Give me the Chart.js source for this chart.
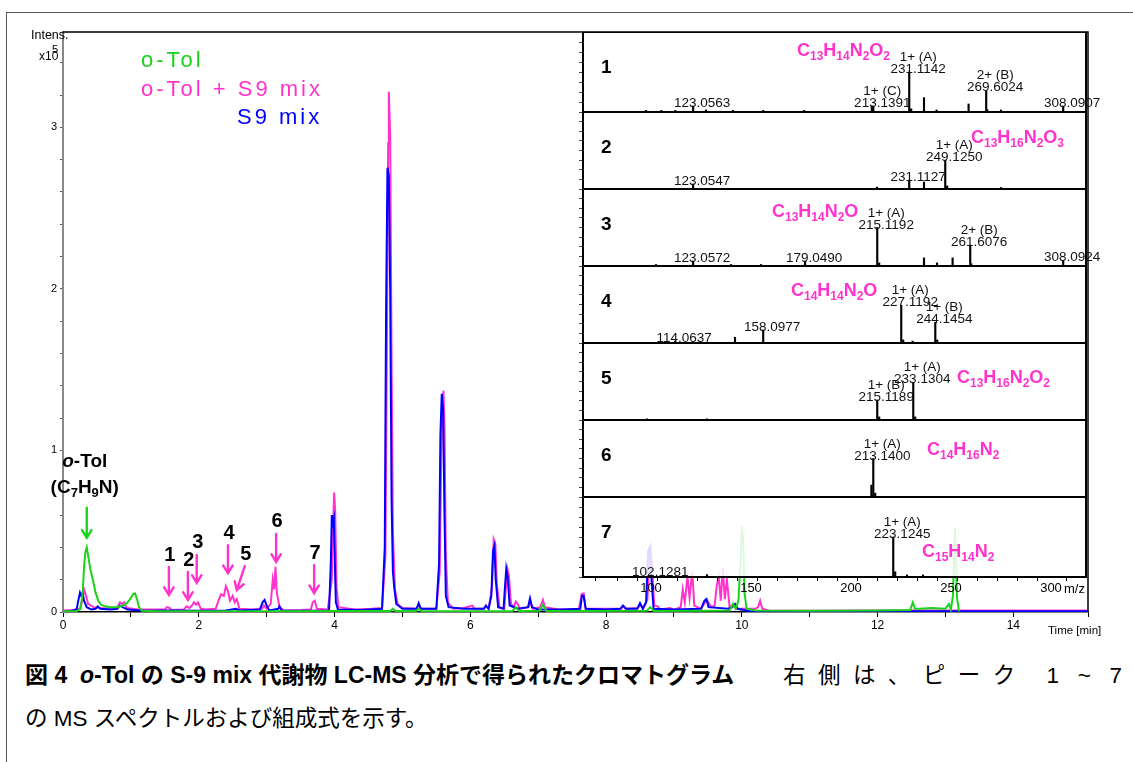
<!DOCTYPE html>
<html>
<head>
<meta charset="utf-8">
<script src="https://cdn.jsdelivr.net/npm/chart.js@4.4.1/dist/chart.umd.min.js"></script>
<style>
  html, body { margin: 0; padding: 0; background: #fff; }
  #page { position: relative; width: 1133px; height: 762px; overflow: hidden; background: #fff;
          font-family: "Liberation Sans", Arial, sans-serif; }
  #frame { position: absolute; left: 6px; top: 12px; width: 1200px; height: 800px;
           border-top: 1.5px solid #555; border-left: 1.5px solid #555; }
  #main { position: absolute; left: 0; top: 0; }
  .panel { position: absolute; }
  #caption { position: absolute; left: 25px; top: 654px; width: 1097px; font-size: 22.5px; line-height: 43px; color: #000;
             font-family: "Liberation Sans", "Noto Sans CJK JP", sans-serif; }
  #caption .first { display: flex; justify-content: space-between; white-space: nowrap; }
  #caption .head { font-weight: bold; font-size: 23px; }
  #caption .tail { display: inline-block; width: 339px; text-align: justify; text-align-last: justify; }
  #caption .second { white-space: nowrap; }
</style>
</head>
<body>
<div id="page">
  <div id="frame"></div>
  <canvas id="main" width="1133" height="645"></canvas>
  <div id="caption">
    <div class="first"><span class="head">図 4&nbsp; <i>o</i>-Tol の S-9 mix 代謝物 LC-MS 分析で得られたクロマトグラム</span><span class="tail">右側は、ピーク 1 ~ 7</span></div>
    <div class="second">の MS スペクトルおよび組成式を示す。</div>
  </div>
</div>
<script>
// ---------- chromatogram (time [min], intensity ×10^5) ----------
const timeMax = 15.1;
const intensMax = 3.59;

const otolTrace = [
  [0,0.004],[0.2,0.006],[0.26,0.02],[0.29,0.12],[0.31,0.28],[0.33,0.37],[0.35,0.4],[0.37,0.35],
  [0.4,0.27],[0.44,0.2],[0.48,0.12],[0.52,0.07],[0.56,0.045],[0.62,0.035],[0.7,0.03],[0.8,0.03],
  [0.88,0.04],[0.94,0.055],[0.99,0.08],[1.03,0.11],[1.06,0.115],[1.09,0.08],[1.12,0.03],[1.16,0.008],
  [1.4,0.005],[2,0.005],[3,0.005],[4,0.006],[4.82,0.006],[4.86,0.02],[4.9,0.006],[5.2,0.006],
  [5.24,0.02],[5.28,0.006],[6,0.005],[6.62,0.006],[6.67,0.03],[6.72,0.006],[7.02,0.008],[7.07,0.045],
  [7.12,0.006],[7.6,0.006],[8.6,0.008],[8.65,0.03],[8.7,0.006],[9.5,0.008],[9.82,0.01],[9.87,0.05],
  [9.91,0.02],[9.95,0.07],[9.98,0.3],[10.0,0.53],[10.02,0.45],[10.04,0.12],[10.07,0.02],[10.2,0.01],
  [11,0.008],[12,0.01],[12.48,0.012],[12.52,0.06],[12.55,0.02],[12.62,0.02],[12.8,0.025],[13.0,0.02],
  [13.05,0.05],[13.08,0.015],[13.11,0.1],[13.14,0.52],[13.17,0.09],[13.2,0.004]
];

const mixTrace = [
  [0,0.01],[0.15,0.012],[0.25,0.02],[0.28,0.07],[0.31,0.14],[0.34,0.1],[0.37,0.05],[0.45,0.03],
  [0.55,0.025],[0.7,0.02],[0.8,0.03],[0.84,0.06],[0.87,0.05],[0.9,0.06],[0.94,0.025],[1.1,0.015],
  [1.3,0.015],[1.5,0.015],[1.53,0.03],[1.57,0.025],[1.6,0.012],[1.78,0.015],[1.82,0.035],[1.86,0.025],
  [1.9,0.04],[1.93,0.06],[1.96,0.045],[1.99,0.06],[2.03,0.02],[2.1,0.015],[2.25,0.02],[2.29,0.07],
  [2.33,0.11],[2.37,0.1],[2.4,0.16],[2.43,0.13],[2.46,0.07],[2.5,0.1],[2.53,0.06],[2.56,0.08],
  [2.6,0.02],[2.8,0.015],[2.93,0.02],[2.96,0.04],[3.0,0.02],[3.06,0.05],[3.09,0.2],[3.11,0.14],
  [3.13,0.28],[3.15,0.12],[3.19,0.03],[3.25,0.01],[3.5,0.012],[3.65,0.015],[3.68,0.06],[3.71,0.07],
  [3.74,0.02],[3.9,0.015],[3.96,0.2],[3.98,0.55],[3.995,0.74],[4.01,0.62],[4.03,0.15],[4.06,0.03],
  [4.3,0.015],[4.55,0.02],[4.7,0.025],[4.75,0.35],[4.77,1.6],[4.79,2.9],[4.8,3.22],[4.82,2.95],
  [4.84,1.6],[4.86,0.5],[4.89,0.14],[4.93,0.05],[5.0,0.025],[5.2,0.02],[5.24,0.045],[5.28,0.02],
  [5.5,0.02],[5.55,0.25],[5.57,0.9],[5.59,1.3],[5.605,1.37],[5.62,1.15],[5.64,0.35],[5.67,0.06],
  [5.75,0.02],[5.9,0.025],[6.03,0.04],[6.06,0.02],[6.2,0.02],[6.23,0.035],[6.27,0.02],[6.32,0.15],
  [6.345,0.45],[6.37,0.42],[6.39,0.18],[6.43,0.03],[6.5,0.02],[6.53,0.18],[6.55,0.26],[6.57,0.22],
  [6.6,0.05],[6.64,0.03],[6.67,0.065],[6.7,0.05],[6.73,0.02],[6.86,0.03],[6.89,0.06],[6.92,0.02],
  [7.03,0.03],[7.07,0.075],[7.1,0.03],[7.3,0.015],[7.6,0.02],[7.64,0.11],[7.67,0.115],[7.7,0.02],
  [8.0,0.02],[8.22,0.02],[8.26,0.035],[8.3,0.02],[8.47,0.025],[8.51,0.045],[8.55,0.02],[8.61,0.08],
  [8.64,0.35],[8.66,0.4],[8.68,0.27],[8.71,0.04],[8.76,0.035],[8.8,0.015],[8.94,0.025],[9.0,0.015],
  [9.1,0.03],[9.13,0.14],[9.16,0.06],[9.2,0.22],[9.23,0.09],[9.27,0.25],[9.3,0.04],[9.4,0.02],
  [9.46,0.06],[9.49,0.07],[9.55,0.03],[9.6,0.04],[9.63,0.16],[9.66,0.22],[9.69,0.07],[9.72,0.27],
  [9.75,0.08],[9.78,0.2],[9.82,0.03],[9.88,0.045],[9.92,0.02],[10.2,0.02],[10.24,0.03],[10.27,0.07],
  [10.3,0.02],[10.4,0.01],[11,0.008],[12,0.01],[13,0.01],[14,0.01],[15.1,0.01]
];

const s9Trace = [
  [0,0.0],[0.1,0.005],[0.2,0.015],[0.23,0.08],[0.25,0.12],[0.27,0.1],[0.29,0.12],[0.31,0.07],
  [0.35,0.03],[0.42,0.015],[0.48,0.02],[0.51,0.035],[0.55,0.02],[0.7,0.015],[0.8,0.02],[0.84,0.04],
  [0.88,0.03],[0.95,0.015],[1.2,0.008],[1.6,0.01],[2.0,0.008],[2.4,0.01],[2.55,0.02],[2.6,0.01],
  [2.9,0.015],[2.94,0.06],[2.97,0.075],[3.0,0.04],[3.04,0.01],[3.17,0.02],[3.19,0.035],[3.22,0.01],
  [3.6,0.008],[3.92,0.01],[3.945,0.3],[3.96,0.6],[3.975,0.55],[3.99,0.58],[4.005,0.3],[4.02,0.06],
  [4.05,0.015],[4.4,0.012],[4.7,0.02],[4.74,0.4],[4.76,1.9],[4.78,2.75],[4.8,2.7],[4.82,2.0],
  [4.84,0.7],[4.86,0.25],[4.88,0.15],[4.91,0.05],[5.0,0.02],[5.21,0.02],[5.24,0.055],[5.27,0.02],
  [5.5,0.02],[5.54,0.3],[5.56,1.1],[5.58,1.35],[5.6,1.25],[5.62,0.6],[5.64,0.1],[5.68,0.03],
  [5.9,0.02],[6.2,0.02],[6.23,0.04],[6.27,0.02],[6.31,0.1],[6.335,0.38],[6.355,0.41],[6.375,0.2],
  [6.41,0.03],[6.49,0.02],[6.51,0.15],[6.53,0.27],[6.55,0.22],[6.58,0.04],[6.7,0.02],[6.85,0.03],
  [6.88,0.085],[6.91,0.03],[7.0,0.015],[7.4,0.015],[7.62,0.02],[7.645,0.1],[7.67,0.1],[7.7,0.02],
  [8.0,0.015],[8.21,0.02],[8.25,0.04],[8.29,0.02],[8.46,0.02],[8.5,0.055],[8.54,0.02],[8.59,0.06],
  [8.62,0.38],[8.645,0.4],[8.67,0.2],[8.7,0.02],[9.0,0.015],[9.4,0.02],[9.45,0.07],[9.48,0.08],
  [9.51,0.03],[9.8,0.02],[9.86,0.03],[9.9,0.05],[9.94,0.02],[10.1,0.006],[11,0.004],[12,0.005],
  [13,0.005],[14,0.005],[15.1,0.005]
];

// arrow marks for metabolite peaks: label, time and intensity at the arrow tip
const peakMarks = [
  ['1', 1.56, 0.105], ['2', 1.84, 0.074], ['3', 1.97, 0.18], ['4', 2.43, 0.24],
  ['5', 2.56, 0.136], ['6', 3.14, 0.31], ['7', 3.70, 0.117]
];
const parentMark = [0.35, 0.46];

// ---------- MS spectra for peaks 1–7 (m/z, relative intensity) ----------
const mzMin = 68, mzMax = 319.5;

const ms1Mz  = [99.5, 107.2, 114.1, 123.0563, 129.5, 143.0, 158.1, 178.6, 212.4, 213.1391, 231.1142, 232.1, 238.5, 244.8, 260.8, 269.6024, 270.1, 277.0, 308.0907];
const ms1Rel = [4, 4, 4, 15, 5, 4, 4, 4, 15, 15, 100, 8, 36, 5, 20, 54, 6, 5, 15];
const ms1Tags = [[123.0563, ''], [213.1391, '1+ (C)'], [231.1142, '1+ (A)'], [269.6024, '2+ (B)'], [308.0907, '']];

const ms2Mz  = [123.0547, 215.0, 231.1127, 238.5, 249.1250, 250.1, 277.0];
const ms2Rel = [13, 5, 23, 18, 75, 8, 4];
const ms2Tags = [[123.0547, ''], [231.1127, ''], [249.1250, '1+ (A)']];

const ms3Mz  = [104.5, 123.0572, 142.0, 157.0, 179.0490, 215.1192, 216.1, 238.5, 245.0, 252.8, 261.6076, 262.1, 308.0924];
const ms3Rel = [4, 13, 4, 4, 13, 100, 8, 21, 8, 21, 54, 6, 15];
const ms3Tags = [[123.0572, ''], [179.0490, ''], [215.1192, '1+ (A)'], [261.6076, '2+ (B)'], [308.0924, '']];

const ms4Mz  = [114.0637, 144.0, 158.0977, 227.1192, 228.1, 232.8, 244.1454, 245.1];
const ms4Rel = [5, 15, 34, 98, 8, 5, 54, 8];
const ms4Tags = [[114.0637, ''], [158.0977, ''], [227.1192, '1+ (A)'], [244.1454, '1+ (B)']];

const ms5Mz  = [100.0, 130.0, 215.1189, 216.1, 233.1304, 234.1];
const ms5Rel = [3, 3, 52, 8, 98, 8];
const ms5Tags = [[215.1189, '1+ (B)'], [233.1304, '1+ (A)']];

const ms6Mz  = [212.2, 213.1400, 214.1];
const ms6Rel = [31, 100, 10];
const ms6Tags = [[213.1400, '1+ (A)']];

const ms7Mz  = [102.1281, 130.0, 223.1245, 224.1, 230.0, 238.0];
const ms7Rel = [5, 6, 100, 13, 5, 5];
const ms7Tags = [[102.1281, ''], [223.1245, '1+ (A)']];

const formulas = ['C13H14N2O2', 'C13H16N2O3', 'C13H14N2O', 'C14H14N2O', 'C13H16N2O2', 'C14H16N2', 'C15H14N2'];

// ---------- styling ----------
const GREEN = '#1ad41a', PINK = '#ff33cc', BLUE = '#0000ff';
const FONT = '"Liberation Sans", Arial, sans-serif';
Chart.defaults.font.family = FONT;

function toPoints(trace) { return trace.map(p => ({ x: p[0], y: p[1] })); }

function arrow(ctx, x1, y1, x2, y2, color) {
  const ang = Math.atan2(y2 - y1, x2 - x1), L = 9, spread = 0.55;
  ctx.strokeStyle = color; ctx.lineWidth = 2.4; ctx.lineCap = 'round';
  ctx.beginPath(); ctx.moveTo(x1, y1); ctx.lineTo(x2, y2);
  ctx.moveTo(x2 - L * Math.cos(ang - spread), y2 - L * Math.sin(ang - spread));
  ctx.lineTo(x2, y2);
  ctx.lineTo(x2 - L * Math.cos(ang + spread), y2 - L * Math.sin(ang + spread));
  ctx.stroke();
}

// text with subscripted digits, e.g. C13H14N2O2
function drawFormula(ctx, text, x, y, size, color) {
  ctx.fillStyle = color; ctx.textAlign = 'left'; ctx.textBaseline = 'alphabetic';
  const parts = text.match(/[A-Z][a-z]?|\d+|[()]/g);
  let cx = x;
  for (const p of parts) {
    if (/^\d+$/.test(p)) {
      ctx.font = 'bold ' + Math.round(size * 0.66) + 'px ' + FONT;
      ctx.fillText(p, cx, y + size * 0.22);
    } else {
      ctx.font = 'bold ' + size + 'px ' + FONT;
      ctx.fillText(p, cx, y);
    }
    cx += ctx.measureText(p).width;
  }
  return cx;
}

function formulaWidth(ctx, text, size) {
  const parts = text.match(/[A-Z][a-z]?|\d+|[()]/g);
  let w = 0;
  for (const p of parts) {
    ctx.font = 'bold ' + (/^\d+$/.test(p) ? Math.round(size * 0.66) : size) + 'px ' + FONT;
    w += ctx.measureText(p).width;
  }
  return w;
}

const chromDecor = {
  id: 'chromDecor',
  afterDraw(chart) {
    const ctx = chart.ctx, a = chart.chartArea, xs = chart.scales.x, ys = chart.scales.y;
    ctx.save();
    // plot frame (top and right)
    ctx.strokeStyle = '#000'; ctx.lineWidth = 1.5;
    ctx.beginPath(); ctx.moveTo(a.left, a.top); ctx.lineTo(a.right, a.top); ctx.lineTo(a.right, a.bottom); ctx.stroke();

    // intensity unit
    ctx.fillStyle = '#000'; ctx.textAlign = 'left'; ctx.textBaseline = 'alphabetic';
    ctx.font = '12.5px ' + FONT;
    ctx.fillText('Intens.', 31, 39);
    ctx.font = '12px ' + FONT;
    ctx.fillText('x10', 39, 60);
    ctx.font = '11px ' + FONT;
    ctx.fillText('5', 52, 53);
    // time axis title
    ctx.font = '11.5px ' + FONT;
    ctx.fillText('Time [min]', 1048, 634);

    // series names
    ctx.font = '22px ' + FONT;
    ctx.letterSpacing = '3px';
    ctx.fillStyle = GREEN; ctx.fillText('o-Tol', 141, 67);
    ctx.fillStyle = PINK;  ctx.fillText('o-Tol + S9 mix', 141, 96);
    ctx.fillStyle = BLUE;  ctx.fillText('S9 mix', 237, 124);
    ctx.letterSpacing = '0px';

    // parent compound label and arrow
    const px = xs.getPixelForValue(parentMark[0]), py = ys.getPixelForValue(parentMark[1]);
    arrow(ctx, px, py - 30, px, py, GREEN);
    ctx.fillStyle = '#000';
    ctx.font = 'italic bold 19px ' + FONT;
    const w1 = ctx.measureText('o').width;
    ctx.font = 'bold 19px ' + FONT;
    const w2 = ctx.measureText('-Tol').width;
    const sx = px - 2 - (w1 + w2) / 2;
    ctx.font = 'italic bold 19px ' + FONT; ctx.fillText('o', sx, 467);
    ctx.font = 'bold 19px ' + FONT; ctx.fillText('-Tol', sx + w1, 467);
    const fw = formulaWidth(ctx, '(C7H9N)', 19);
    drawFormula(ctx, '(C7H9N)', px - 2 - fw / 2, 493, 19, '#000');

    // metabolite peak arrows
    ctx.font = 'bold 20px ' + FONT; ctx.textAlign = 'center'; ctx.textBaseline = 'middle';
    for (const [lab, t, v] of peakMarks) {
      const tx = xs.getPixelForValue(t), ty = ys.getPixelForValue(v);
      const slant = lab === '5' ? 8 : 0;
      const len = lab === '5' ? 24 : 28;
      arrow(ctx, tx + slant, ty - len, tx, ty, PINK);
      ctx.fillStyle = '#000';
      ctx.fillText(lab, tx + slant + 1, ty - len - 12);
    }
    ctx.restore();
  }
};

new Chart(document.getElementById('main'), {
  type: 'line',
  data: {
    datasets: [
      { label: 'o-Tol', data: toPoints(otolTrace), borderColor: GREEN, borderWidth: 2 },
      { label: 'S9 mix', data: toPoints(s9Trace), borderColor: BLUE, borderWidth: 2 },
      { label: 'o-Tol + S9 mix', data: toPoints(mixTrace), borderColor: PINK, borderWidth: 2 }
    ]
  },
  options: {
    responsive: false, animation: false, devicePixelRatio: 1,
    layout: { padding: { left: 0, top: 32, right: 45, bottom: 0 } },
    elements: { point: { radius: 0 }, line: { tension: 0 } },
    plugins: { legend: { display: false }, tooltip: { enabled: false } },
    scales: {
      x: {
        type: 'linear', min: 0, max: timeMax,
        ticks: { stepSize: 1, autoSkip: false, maxRotation: 0, color: '#000', font: { size: 12 }, padding: 1,
                 callback: v => (Math.abs(v - Math.round(v)) < 1e-6 && Math.round(v) % 2 === 0) ? String(Math.round(v)) : '' },
        grid: { drawOnChartArea: false, tickLength: 5, color: '#000' },
        border: { color: '#000', width: 1.5 },
        afterFit: s => { s.height = 33; }
      },
      y: {
        min: 0, max: intensMax,
        ticks: { stepSize: 0.2, autoSkip: false, color: '#000', font: { size: 11 }, padding: 3,
                 callback: v => Math.abs(v - Math.round(v)) < 1e-6 ? String(Math.round(v)) : '' },
        grid: { drawOnChartArea: false, tickLength: 3, color: '#555' },
        border: { color: '#888', width: 2 },
        afterFit: s => { s.width = 63; }
      }
    }
  },
  plugins: [chromDecor]
});

// ---------- inset spectra ----------
const page = document.getElementById('page');
const panelTops = [32, 112, 189, 266, 343, 420, 497, 577];
const formulaPos = [[797, 24], [971, 31], [772, 28], [791, 30], [957, 40], [927, 35], [922, 60]];
const spectra = [
  [ms1Mz, ms1Rel, ms1Tags], [ms2Mz, ms2Rel, ms2Tags], [ms3Mz, ms3Rel, ms3Tags],
  [ms4Mz, ms4Rel, ms4Tags], [ms5Mz, ms5Rel, ms5Tags], [ms6Mz, ms6Rel, ms6Tags], [ms7Mz, ms7Rel, ms7Tags]
];
const panelLeft = 579, insetRight = 1086, panelCanvasW = 554;

spectra.forEach(([mz, rel, tags], i) => {
  const last = i === spectra.length - 1;
  const top = panelTops[i], bottom = panelTops[i + 1];
  const c = document.createElement('canvas');
  c.className = 'panel';
  c.width = panelCanvasW; c.height = bottom - top + (last ? 22 : 0);
  c.style.left = panelLeft + 'px'; c.style.top = top + 'px';
  page.appendChild(c);

  const decor = {
    id: 'specDecor' + i,
    beforeDraw(chart) {
      const a = chart.chartArea, ctx = chart.ctx;
      ctx.save(); ctx.fillStyle = 'rgba(255,255,255,0.86)';
      ctx.fillRect(a.left, a.top, a.right - a.left, a.bottom - a.top); ctx.restore();
    },
    afterDraw(chart) {
      const a = chart.chartArea, ctx = chart.ctx, xs = chart.scales.x, ys = chart.scales.y;
      ctx.save();
      ctx.strokeStyle = '#000'; ctx.lineWidth = 2;
      ctx.strokeRect(a.left, a.top, a.right - a.left, a.bottom - a.top);
      // panel number
      ctx.fillStyle = '#000'; ctx.font = 'bold 19px ' + FONT; ctx.textAlign = 'left'; ctx.textBaseline = 'alphabetic';
      ctx.fillText(String(i + 1), 601 - panelLeft, a.top + 41);
      // composition
      drawFormula(ctx, formulas[i], formulaPos[i][0] - panelLeft, a.top + formulaPos[i][1], 18, PINK);
      // peak labels
      ctx.fillStyle = '#111'; ctx.font = '13.5px ' + FONT; ctx.textAlign = 'center';
      for (const [m, charge] of tags) {
        const k = mz.indexOf(m);
        const x = xs.getPixelForValue(m) + 9, y = ys.getPixelForValue(rel[k]);
        ctx.fillText(m.toFixed(4), x, y + 1);
        if (charge) ctx.fillText(charge, x, y - 11);
      }
      if (last) {
        ctx.textAlign = 'left'; ctx.font = '13px ' + FONT; ctx.fillStyle = '#000';
        ctx.fillText('m/z', 1064 - panelLeft, a.bottom + 16);
      }
      ctx.restore();
    }
  };

  new Chart(c, {
    type: 'bar',
    data: { datasets: [{ data: mz.map((m, k) => ({ x: m, y: rel[k] })), backgroundColor: '#000',
                         borderWidth: 0, barThickness: 1.5 }] },
    options: {
      responsive: false, animation: false, devicePixelRatio: 1,
      layout: { padding: { left: 0, top: 0, bottom: 0, right: panelLeft + panelCanvasW - insetRight } },
      plugins: { legend: { display: false }, tooltip: { enabled: false } },
      scales: {
        x: {
          type: 'linear', min: mzMin, max: mzMax, offset: false, display: last,
          ticks: { stepSize: 10, autoSkip: false, maxRotation: 0, color: '#000', font: { size: 13 }, padding: 0,
                   labelOffset: 4, callback: v => Math.abs(v % 50) < 1e-6 ? String(v) : '' },
          grid: { drawOnChartArea: false, tickLength: 4, color: '#000' },
          border: { display: false },
          afterFit: s => { if (last) s.height = 22; }
        },
        y: {
          min: 0, max: 200,
          ticks: { display: false, stepSize: 25 },
          grid: { drawOnChartArea: false, tickLength: 4, color: '#444' },
          border: { display: false },
          afterFit: s => { s.width = 4; }
        }
      }
    },
    plugins: [decor]
  });
});
</script>
</body>
</html>
